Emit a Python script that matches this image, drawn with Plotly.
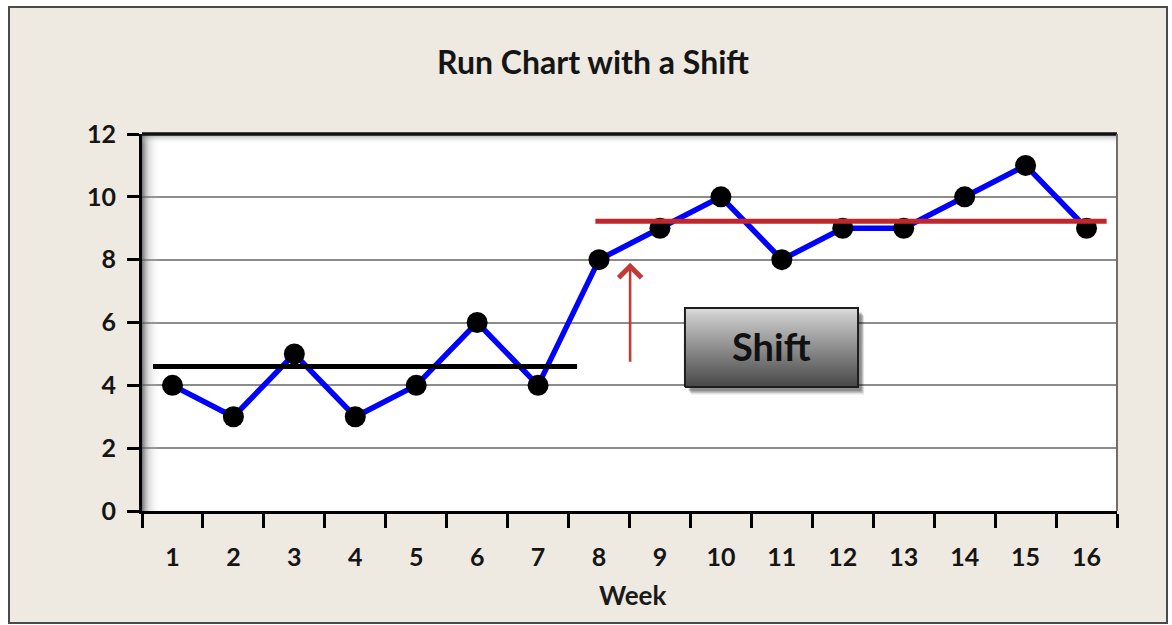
import plotly.graph_objects as go

# ---- data ----
weeks = list(range(1, 17))
week_labels = [str(w) for w in weeks]
values = [4, 3, 5, 3, 4, 6, 4, 8, 9, 10, 8, 9, 9, 10, 11, 9]
y_ticks = [0, 2, 4, 6, 8, 10, 12]

baseline_x = [0.68, 7.64]
baseline_level = 4.6
shift_x = [7.94, 16.33]
shift_level = 9.22
arrow_x = 8.51
arrow_y = [4.7, 7.9]
shift_box_x = [9.41, 12.25]
shift_box_y = [3.95, 6.46]
shift_label = "Shift"

FONT = "Lato"
BEIGE = "#EEEAE1"

fig = go.Figure()

# left inner shadow of the plot area
sx0, sx1 = 0.5, 0.80
fig.add_trace(go.Scatter(
    x=[sx0, sx1, sx1, sx0, sx0], y=[0, 0, 12, 12, 0], mode="lines",
    line=dict(width=0), fill="toself",
    fillgradient=dict(type="horizontal", start=sx0, stop=sx1,
                      colorscale=[[0, "rgba(70,70,70,0.75)"], [0.35, "rgba(150,150,150,0.35)"],
                                  [1, "rgba(255,255,255,0)"]]),
    hoverinfo="skip", showlegend=False))
# top inner shadow
ty0, ty1 = 11.68, 12
fig.add_trace(go.Scatter(
    x=[0.5, 16.5, 16.5, 0.5, 0.5], y=[ty0, ty0, ty1, ty1, ty0], mode="lines",
    line=dict(width=0), fill="toself",
    fillgradient=dict(type="vertical", start=ty0, stop=ty1,
                      colorscale=[[0, "rgba(255,255,255,0)"], [1, "rgba(90,90,90,0.55)"]]),
    hoverinfo="skip", showlegend=False))

# shift box shadow
bx0, bx1 = shift_box_x
by0, by1 = shift_box_y
for dx, dy, a in [(0.10, -0.24, 0.12), (0.08, -0.19, 0.18), (0.06, -0.14, 0.22)]:
    fig.add_trace(go.Scatter(
        x=[bx0 + dx, bx1 + dx, bx1 + dx, bx0 + dx, bx0 + dx],
        y=[by0 + dy, by0 + dy, by1 + dy, by1 + dy, by0 + dy],
        mode="lines", line=dict(width=0), fill="toself",
        fillcolor=f"rgba(0,0,0,{a})", hoverinfo="skip", showlegend=False))
# shift box with gradient
fig.add_trace(go.Scatter(
    x=[bx0, bx1, bx1, bx0, bx0], y=[by0, by0, by1, by1, by0],
    mode="lines", line=dict(width=2, color="#1e1e1e"), fill="toself",
    fillgradient=dict(type="vertical", start=by0, stop=by1,
                      colorscale=[[0, "#474747"], [0.5, "#8e8e8e"], [0.9, "#c9c9c9"], [1, "#dedede"]]),
    hoverinfo="skip", showlegend=False))

# run line
fig.add_trace(go.Scatter(
    x=weeks, y=values, mode="lines+markers",
    line=dict(color="#0000FF", width=5.5),
    marker=dict(color="black", size=21),
    showlegend=False))

# baseline (before shift)
fig.add_trace(go.Scatter(
    x=baseline_x, y=[baseline_level] * 2, mode="lines",
    line=dict(color="black", width=5), showlegend=False, hoverinfo="skip"))
# shifted level
fig.add_trace(go.Scatter(
    x=shift_x, y=[shift_level] * 2, mode="lines",
    line=dict(color="#C0272D", width=5), showlegend=False, hoverinfo="skip"))

fig.add_annotation(
    x=arrow_x, y=arrow_y[1], ax=arrow_x, ay=arrow_y[0], xref="x", yref="y",
    axref="x", ayref="y", showarrow=True, arrowhead=4, arrowsize=1.7,
    arrowwidth=2.6, arrowcolor="#C23A35", text="")

fig.add_annotation(
    x=(bx0 + bx1) / 2, y=(by0 + by1) / 2 + 0.05, xref="x", yref="y",
    text=f"<b>{shift_label}</b>", showarrow=False,
    font=dict(family=FONT, size=38, color="#111111"))

fig.add_annotation(
    x=0.5036, y=-0.222, xref="paper", yref="paper", text="<b>Week</b>",
    showarrow=False, xanchor="center", yanchor="middle",
    font=dict(family=FONT, size=26, color="#1a1a1a"))

shapes = [
    # outer frame
    dict(type="rect", xref="paper", yref="paper", x0=-0.1364, x1=1.0513, y0=-0.2971, y1=1.3369,
         fillcolor=BEIGE, line=dict(color="#4a4a4a", width=2), layer="below"),
    # plot area white
    dict(type="rect", xref="paper", yref="paper", x0=0, x1=1, y0=0, y1=1,
         fillcolor="white", line=dict(width=0), layer="below"),
    # top border
    dict(type="line", xref="paper", yref="paper", x0=0, x1=1, y0=1, y1=1,
         line=dict(color="#111111", width=3.5)),
    # right border
    dict(type="line", xref="paper", yref="paper", x0=1, x1=1, y0=0, y1=1,
         line=dict(color="#6e6e6e", width=2)),
]

fig.update_layout(
    width=1172, height=625,
    margin=dict(l=142, r=55, t=134, b=114),
    paper_bgcolor="white", plot_bgcolor="white",
    shapes=shapes,
    title=dict(text="<b>Run Chart with a Shift</b>", x=593 / 1172, y=1 - 63 / 625,
               xref="container", yref="container", xanchor="center", yanchor="middle",
               font=dict(family=FONT, size=32, color="#151515")),
    font=dict(family=FONT),
    xaxis=dict(
        range=[0.5, 16.5], tickmode="array", tickvals=weeks, ticktext=week_labels,
        ticks="", showgrid=False, zeroline=False,
        showline=True, linecolor="black", linewidth=3,
        ticklabelstandoff=22,
        tickfont=dict(family=FONT, size=25, color="#151515", weight="bold"),
        minor=dict(ticks="outside", tick0=0.5, dtick=1, ticklen=14, tickwidth=3,
                   tickcolor="black", showgrid=False),
    ),
    yaxis=dict(
        range=[0, 12], tickmode="array", tickvals=y_ticks,
        ticks="outside", ticklen=12, tickwidth=3, tickcolor="black",
        showgrid=True, gridcolor="#8c8c8c", gridwidth=1.5, zeroline=False,
        showline=True, linecolor="black", linewidth=3,
        ticklabelstandoff=6,
        tickfont=dict(family=FONT, size=25, color="#151515", weight="bold"),
    ),
)

fig.write_html("out.html", config={"displayModeBar": False},
               post_script="document.body.style.margin='0';")
